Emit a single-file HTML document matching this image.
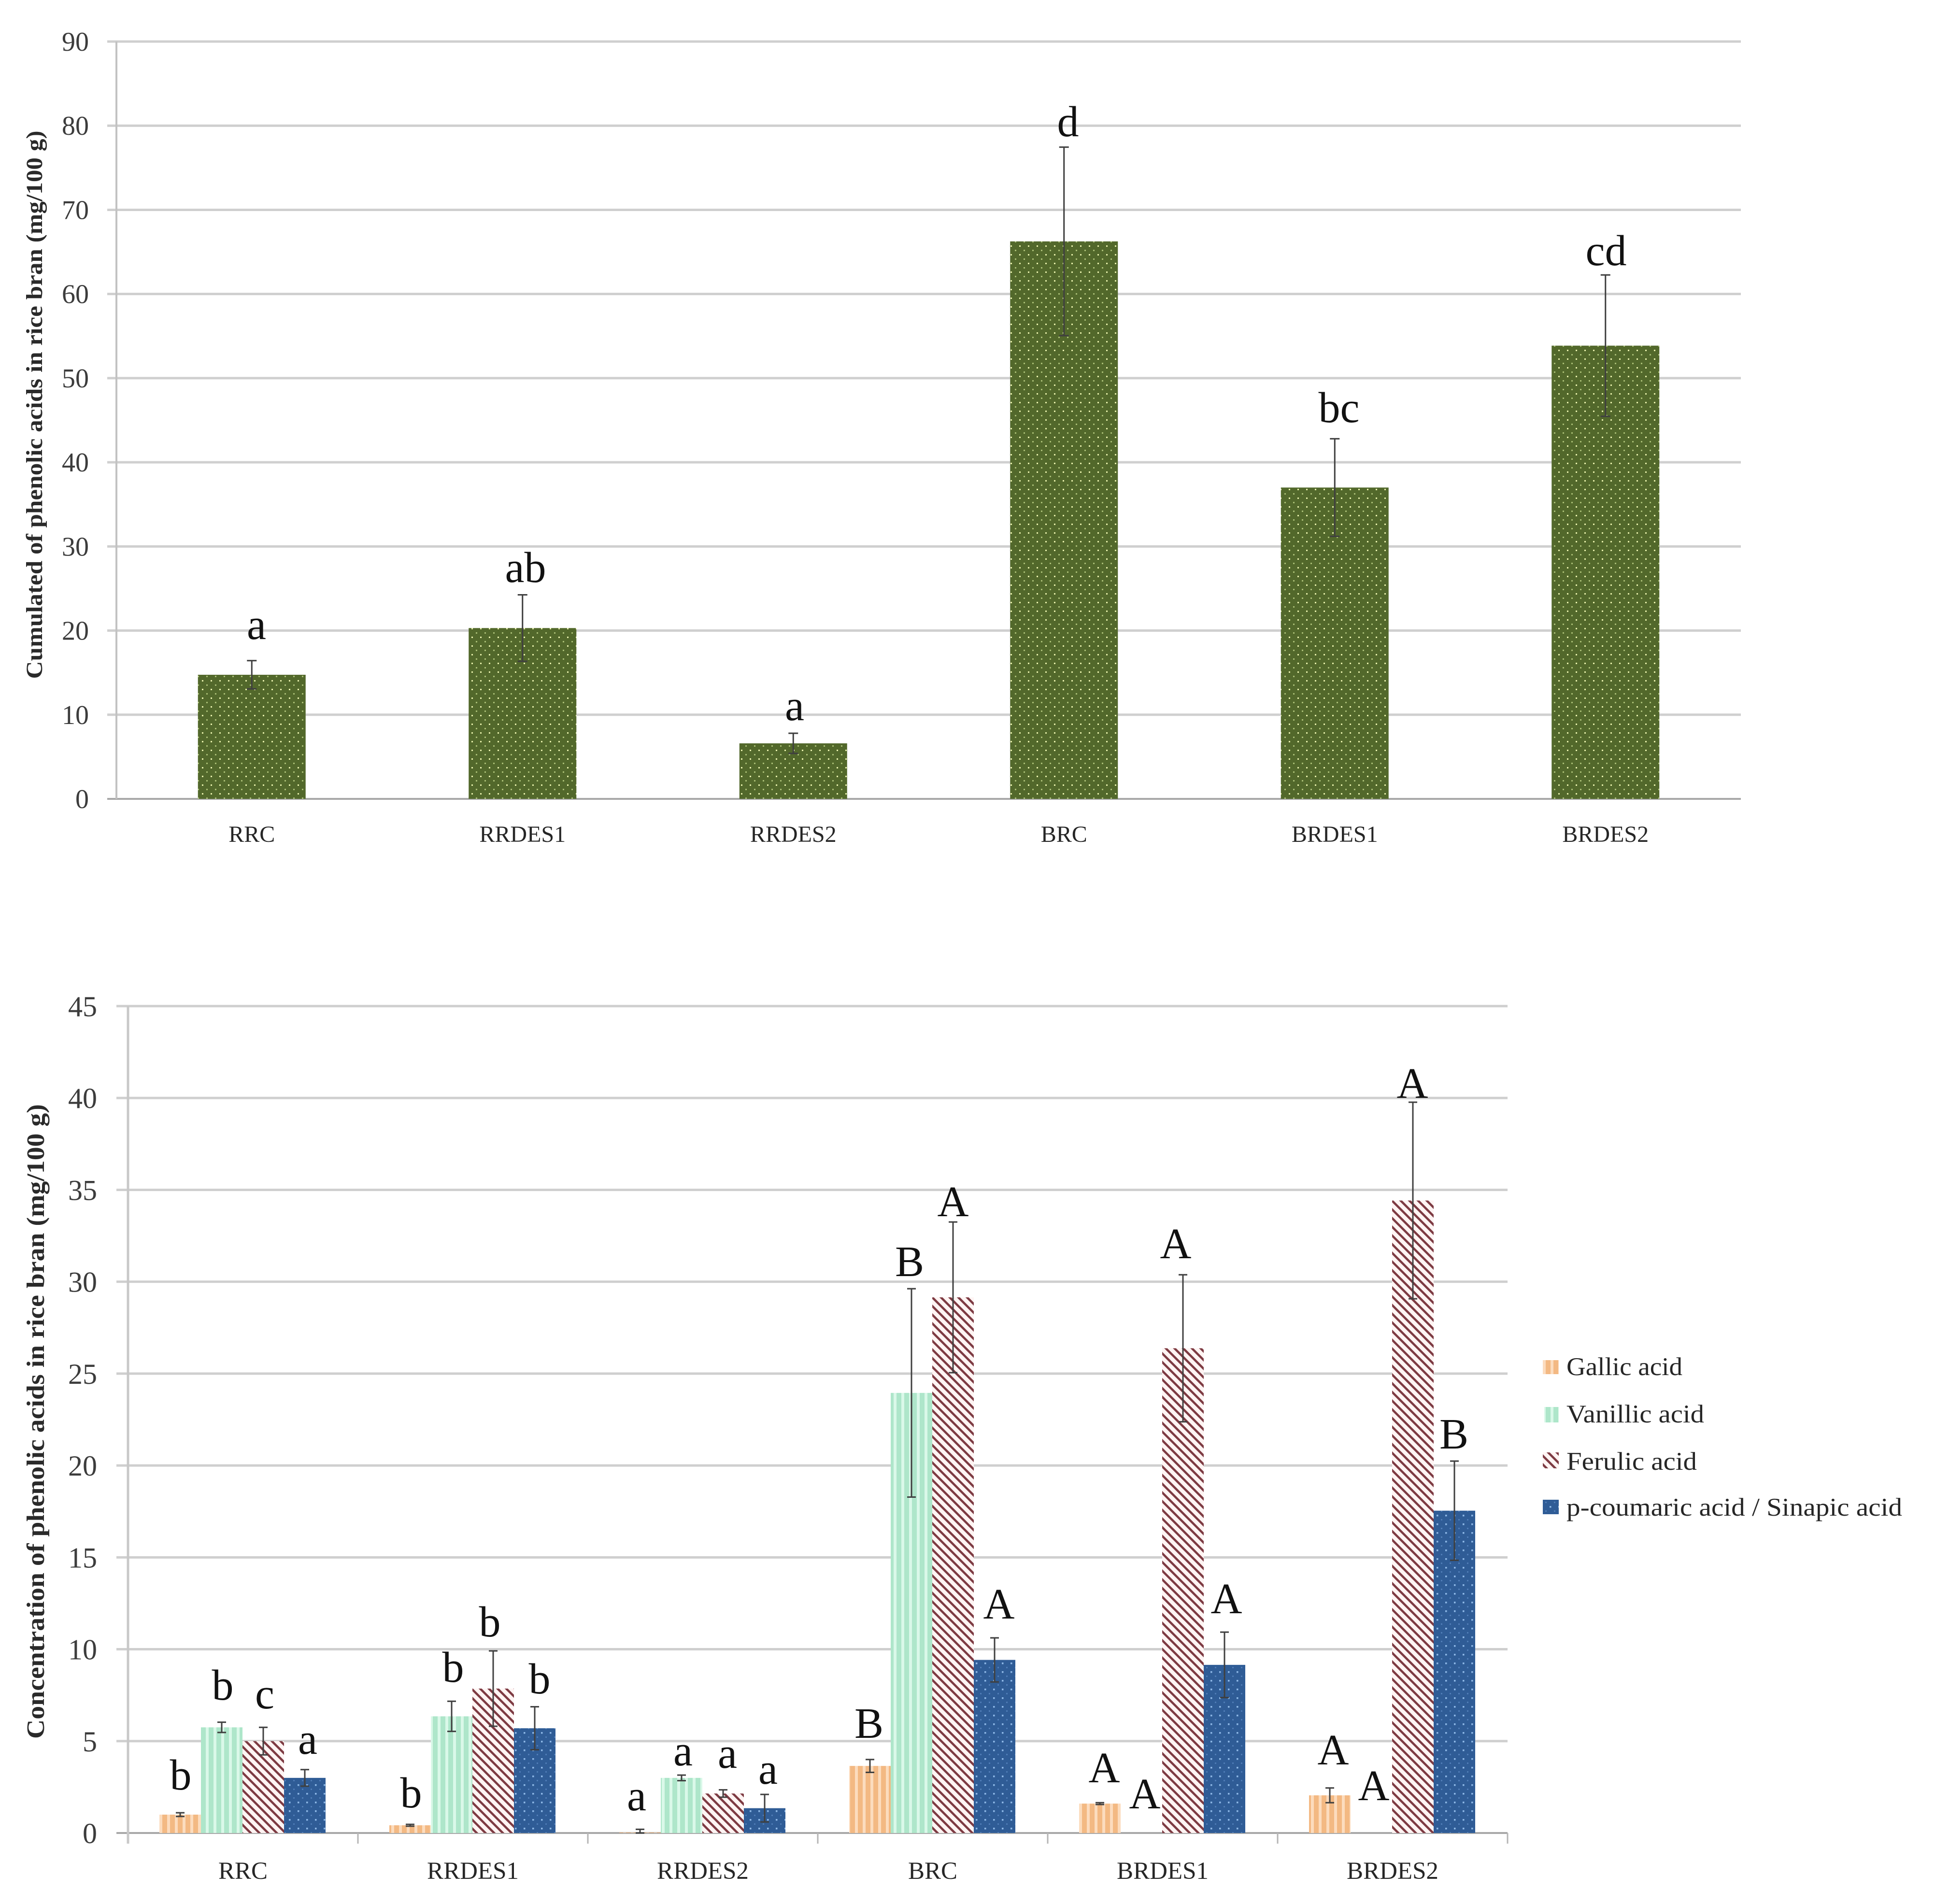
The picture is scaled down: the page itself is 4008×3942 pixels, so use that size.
<!DOCTYPE html>
<html>
<head>
<meta charset="utf-8">
<style>
html,body{margin:0;padding:0;background:#fff;}
svg{display:block;}
text{font-family:"Liberation Serif",serif;}
.tick{fill:#3c3c3c;}
.cat{fill:#262626;}
.letter{fill:#111;text-anchor:middle;font-size:90px;}
.ytitle{fill:#2a2a2a;font-weight:bold;text-anchor:middle;}
.legend{fill:#262626;font-size:53px;}
</style>
</head>
<body>
<svg id="figure" xmlns="http://www.w3.org/2000/svg" width="4008" height="3942" viewBox="0 0 4008 3942">
<defs>
<pattern id="p-olive" patternUnits="userSpaceOnUse" width="18" height="18">
<rect width="18" height="18" fill="#52682b"/>
<rect x="4" y="4" width="3" height="3" fill="#e6efaa"/>
<rect x="13" y="13" width="3" height="3" fill="#a8bd74"/>
</pattern>
<pattern id="p-orange" patternUnits="userSpaceOnUse" width="16" height="16">
<rect width="16" height="16" fill="#f3b983"/>
<rect x="10" width="6" height="16" fill="#fcdcbe"/>
</pattern>
<pattern id="p-green" patternUnits="userSpaceOnUse" width="16" height="16">
<rect width="16" height="16" fill="#aee6ca"/>
<rect x="10" width="6" height="16" fill="#daf8e9"/>
</pattern>
<pattern id="p-red" patternUnits="userSpaceOnUse" width="18" height="18">
<rect width="18" height="18" fill="#fff4f3"/>
<path d="M-2 -2L20 20M16 -2L20 2M-2 16L2 20" stroke="#7d3a42" stroke-width="4.6" fill="none"/>
</pattern>
<pattern id="p-blue" patternUnits="userSpaceOnUse" width="18" height="18">
<rect width="18" height="18" fill="#2f5c96"/>
<rect x="4" y="4" width="3.5" height="3.5" fill="#8db7e6"/>
<rect x="13" y="13" width="3" height="3" fill="#4f7cb6"/>
</pattern>
</defs>

<g id="top-chart"></g>
<g id="bottom-chart"></g>

<text class="ytitle" font-size="48" textLength="1135" lengthAdjust="spacingAndGlyphs" transform="translate(87 838) rotate(-90)">Cumulated of phenolic acids in rice bran (mg/100 g)</text>
<text class="ytitle" font-size="52" textLength="1314" lengthAdjust="spacingAndGlyphs" transform="translate(91 2943) rotate(-90)">Concentration of phenolic acids in rice bran (mg/100 g)</text>

<g>
<text class="letter" x="531" y="1323">a</text>
<text class="letter" x="1088" y="1205">ab</text>
<text class="letter" x="1645" y="1491">a</text>
<text class="letter" x="2211" y="282">d</text>
<text class="letter" x="2772" y="874">bc</text>
<text class="letter" x="3325" y="549">cd</text>
</g>

<g>
<text class="letter" x="374" y="3705">b</text>
<text class="letter" x="461" y="3519">b</text>
<text class="letter" x="548" y="3537">c</text>
<text class="letter" x="637" y="3631">a</text>
<text class="letter" x="851" y="3742">b</text>
<text class="letter" x="938" y="3482">b</text>
<text class="letter" x="1014" y="3388">b</text>
<text class="letter" x="1117" y="3506">b</text>
<text class="letter" x="1318" y="3748">a</text>
<text class="letter" x="1414" y="3655">a</text>
<text class="letter" x="1506" y="3660">a</text>
<text class="letter" x="1590" y="3693">a</text>
<text class="letter" x="1799" y="3598">B</text>
<text class="letter" x="1883" y="2642">B</text>
<text class="letter" x="1973" y="2518">A</text>
<text class="letter" x="2068" y="3351">A</text>
<text class="letter" x="2286" y="3690">A</text>
<text class="letter" x="2370" y="3744">A</text>
<text class="letter" x="2434" y="2605">A</text>
<text class="letter" x="2539" y="3340">A</text>
<text class="letter" x="2760" y="3653">A</text>
<text class="letter" x="2844" y="3727">A</text>
<text class="letter" x="2924" y="2273">A</text>
<text class="letter" x="3010" y="2999">B</text>
</g>

<g>
<g>
<rect x="3194" y="2816" width="33" height="29" fill="url(#p-orange)"/>
<text class="legend" x="3243" y="2847" textLength="240" lengthAdjust="spacingAndGlyphs">Gallic acid</text>
</g>
<g>
<rect x="3197" y="2913" width="30" height="32" fill="url(#p-green)"/>
<text class="legend" x="3243" y="2945" textLength="285" lengthAdjust="spacingAndGlyphs">Vanillic acid</text>
</g>
<g>
<rect x="3194" y="3007" width="33" height="33" fill="url(#p-red)"/>
<text class="legend" x="3243" y="3043" textLength="270" lengthAdjust="spacingAndGlyphs">Ferulic acid</text>
</g>
<g>
<rect x="3194" y="3105" width="33" height="30" fill="url(#p-blue)"/>
<text class="legend" x="3243" y="3138" textLength="695" lengthAdjust="spacingAndGlyphs">p-coumaric acid / Sinapic acid</text>
</g>
</g>
</svg>

<script>
var categories = ["RRC", "RRDES1", "RRDES2", "BRC", "BRDES1", "BRDES2"];
var topTicks = [0, 10, 20, 30, 40, 50, 60, 70, 80, 90];
var topValues = [14.75, 20.3, 6.6, 66.25, 37.0, 53.86];
var topErrors = [1.68, 3.95, 1.2, 11.2, 5.8, 8.4];

var bottomTicks = [0, 5, 10, 15, 20, 25, 30, 35, 40, 45];
var seriesNames = ["gallic", "vanillic", "ferulic", "coumaric-sinapic"];
var gallicValues = [1.0, 0.42, 0.03, 3.65, 1.6, 2.05];
var gallicErrors = [0.1, 0.05, 0.17, 0.35, 0.05, 0.4];
var vanillicValues = [5.75, 6.35, 3.0, 23.95, 0, 0];
var vanillicErrors = [0.28, 0.82, 0.15, 5.67, 0, 0];
var ferulicValues = [5.0, 7.86, 2.15, 29.15, 26.38, 34.42];
var ferulicErrors = [0.75, 2.05, 0.2, 4.1, 4.0, 5.35];
var coumaricValues = [3.0, 5.7, 1.35, 9.42, 9.15, 17.54];
var coumaricErrors = [0.45, 1.17, 0.75, 1.2, 1.78, 2.7];

var NS = "http://www.w3.org/2000/svg";

function make(parent, tag, attrs, txt) {
  var e = document.createElementNS(NS, tag);
  for (var k in attrs) e.setAttribute(k, attrs[k]);
  if (txt !== undefined) e.textContent = txt;
  parent.appendChild(e);
  return e;
}

/* ---------- top chart ---------- */
var topG = document.getElementById("top-chart");
var tLeft = 241, tRight = 3604, tZero = 1654, tTop = 86;
function tY(v) { return tZero - (v / 90) * (tZero - tTop); }
function tBand(i) { return tLeft + (tRight - tLeft) / categories.length * i; }
var tStep = (tRight - tLeft) / categories.length;
var tBarW = 223;

topTicks.forEach(function (t) {
  var line = make(topG, "line", {x1: 222, x2: tRight, y1: tY(t), y2: tY(t), stroke: t === 0 ? "#a9a9a9" : "#cfcfcf", "stroke-width": t === 0 ? 4 : 5});
  
  
  var label = make(topG, "text", {"class": "tick", x: 184, y: tY(t) + 19, "font-size": 56, "text-anchor": "end"}, String(t));
  
  
});
var tAxis = make(topG, "line", {x1: tLeft, x2: tLeft, y1: tTop, y2: tZero, stroke: "#c2c2c2", "stroke-width": 4});



categories.forEach(function (c, i) {
  var cx = tBand(i) + tStep / 2;
  var bar = make(topG, "rect", {x: cx - tBarW / 2, y: tY(topValues[i]), width: tBarW, height: tZero - tY(topValues[i]), fill: "url(#p-olive)"});
  
  
  var hi = tY(topValues[i] + topErrors[i]), lo = tY(topValues[i] - topErrors[i]);
  var err = make(topG, "path", {d: "M" + (cx - 10) + " " + hi + "H" + (cx + 10) + "M" + cx + " " + hi + "V" + lo + "M" + (cx - 10) + " " + lo + "H" + (cx + 10), stroke: "#3f3f3f", "stroke-width": 3, fill: "none"});
  
  
  var lab = make(topG, "text", {"class": "cat", x: cx, y: 1743, "font-size": 48, "text-anchor": "middle"}, c);
  
  
});

/* ---------- bottom chart ---------- */
var botG = document.getElementById("bottom-chart");
var bLeft = 265, bRight = 3121, bZero = 3795, bTop = 2083;
function bY(v) { return bZero - (v / 45) * (bZero - bTop); }
var bStep = (bRight - bLeft) / categories.length;
function bBand(i) { return bLeft + bStep * i; }
var bBarW = 86;
var bInset = (bStep - 4 * bBarW) / 2 - 1;
var seriesValues = [gallicValues, vanillicValues, ferulicValues, coumaricValues];
var seriesErrors = [gallicErrors, vanillicErrors, ferulicErrors, coumaricErrors];
var seriesFills = ["url(#p-orange)", "url(#p-green)", "url(#p-red)", "url(#p-blue)"];

bottomTicks.forEach(function (t) {
  var line = make(botG, "line", {x1: 241, x2: bRight, y1: bY(t), y2: bY(t), stroke: t === 0 ? "#a9a9a9" : "#cfcfcf", "stroke-width": t === 0 ? 4 : 5});
  
  
  var label = make(botG, "text", {"class": "tick", x: 201, y: bY(t) + 21, "font-size": 60, "text-anchor": "end"}, String(t));
  
  
});
var bAxis = make(botG, "line", {x1: bLeft, x2: bLeft, y1: bTop, y2: bZero + 22, stroke: "#c8c8c8", "stroke-width": 5});



categories.forEach(function (c, i) {
  var tickMark = make(botG, "line", {x1: bBand(i + 1), x2: bBand(i + 1), y1: bZero, y2: bZero + 22, stroke: "#b5b5b5", "stroke-width": 3});
  
  
  var lab = make(botG, "text", {"class": "cat", x: bBand(i) + bStep / 2, y: 3890, "font-size": 51, "text-anchor": "middle"}, c);
  
  
  seriesValues.forEach(function (vals, s) {
    var v = vals[i];
    if (v <= 0) return;
    var x = bBand(i) + bInset + s * bBarW;
    var bar = make(botG, "rect", {x: x, y: bY(v), width: bBarW, height: bZero - bY(v), fill: seriesFills[s]});
    
    
  });
});
categories.forEach(function (c, i) {
  seriesValues.forEach(function (vals, s) {
    var v = vals[i], e = seriesErrors[s][i];
    if (v <= 0) return;
    var cx = bBand(i) + bInset + s * bBarW + bBarW / 2;
    var hi = bY(v + e), lo = bY(Math.max(v - e, 0));
    var err = make(botG, "path", {d: "M" + (cx - 9) + " " + hi + "H" + (cx + 9) + "M" + cx + " " + hi + "V" + lo + "M" + (cx - 9) + " " + lo + "H" + (cx + 9), stroke: "#3f3f3f", "stroke-width": 3, fill: "none"});
    
    
  });
});
</script>
</body>
</html>
